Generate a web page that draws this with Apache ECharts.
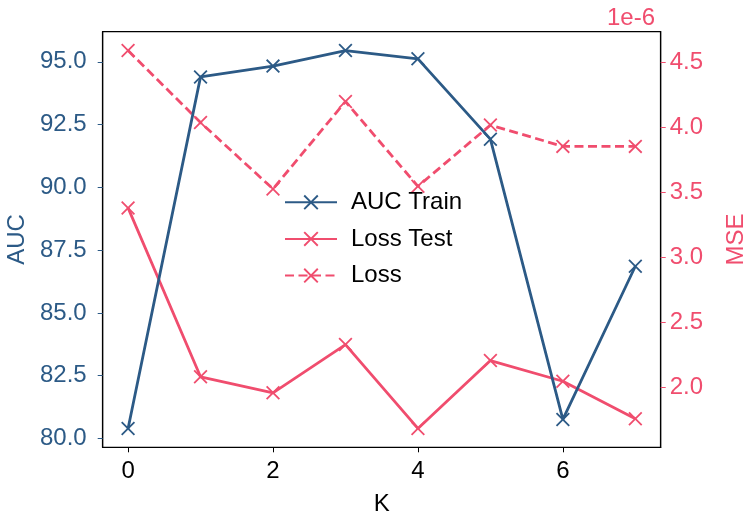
<!DOCTYPE html>
<html><head><meta charset="utf-8">
<script src="https://cdn.jsdelivr.net/npm/echarts@6/dist/echarts.min.js"></script>
<style>html,body{margin:0;padding:0;background:#fff}#c{width:747px;height:519px}</style>
</head><body><div id="c"></div>
<script>
const kValues = [0, 1, 2, 3, 4, 5, 6, 7];
const aucTrain = [80.40, 94.40, 94.83, 95.45, 95.12, 91.92, 80.76, 86.86];
const lossTest = [3.379e-6, 2.080e-6, 1.957e-6, 2.328e-6, 1.683e-6, 2.205e-6, 2.046e-6, 1.757e-6];
const loss = [4.589e-6, 4.036e-6, 3.525e-6, 4.197e-6, 3.545e-6, 4.016e-6, 3.852e-6, 3.852e-6];
const xTicks = [0, 2, 4, 6];
const aucTicks = [80, 82.5, 85, 87.5, 90, 92.5, 95];
const mseTicks = [2.0e-6, 2.5e-6, 3.0e-6, 3.5e-6, 4.0e-6, 4.5e-6];

const BLUE = '#2c5a86';
const PINK = '#f04d6e';
const FONT = 'Liberation Sans';
const X = 'path://M0.45,0L0.55,0L0.55,0.45L1,0.45L1,0.55L0.55,0.55L0.55,1L0.45,1L0.45,0.55L0,0.55L0,0.45L0.45,0.45Z';

const pairs = ys => kValues.map((k, i) => [k, ys[i]]);

const chart = echarts.init(document.getElementById('c'), null, {renderer: 'canvas'});
chart.setOption({
  animation: false,
  textStyle: {fontFamily: FONT},
  grid: {left: 102.7, right: 86.3, top: 31.7, bottom: 71.7, show: true, borderColor: '#000', borderWidth: 1.2,
    containLabel: false, outerBoundsMode: 'none'},
  graphic: [{type: 'text', right: 92, top: 6, style: {text: '1e-6', fill: PINK, font: '24px "Liberation Sans"'}}],
  legend: {
    orient: 'vertical', left: 284, top: 188.7, padding: 0, itemWidth: 52, itemHeight: 24, itemGap: 9.5,
    textStyle: {color: '#000', fontSize: 24, lineHeight: 24, padding: [0, 0, 0, 9], fontFamily: FONT},
    data: ['AUC Train', 'Loss Test', 'Loss']
  },
  xAxis: {
    type: 'value', min: -0.35, max: 7.35,
    name: 'K', nameLocation: 'middle', nameGap: 45,
    nameTextStyle: {color: '#000', fontSize: 24, fontFamily: FONT},
    axisLine: {show: true, onZero: false, lineStyle: {color: '#000', width: 1.2}},
    axisTick: {show: true, length: 5, lineStyle: {color: '#000'}, customValues: xTicks},
    axisLabel: {color: '#000', fontSize: 24, margin: 12, customValues: xTicks, fontFamily: FONT},
    splitLine: {show: false}
  },
  yAxis: [{
    type: 'value', min: 79.65, max: 96.2, position: 'left',
    name: 'AUC', nameLocation: 'middle', nameGap: 72, nameRotate: 90,
    nameTextStyle: {color: BLUE, fontSize: 24, fontFamily: FONT},
    axisLine: {show: true, onZero: false, lineStyle: {color: '#000', width: 1.2}},
    axisTick: {show: true, length: 5, lineStyle: {color: BLUE}, customValues: aucTicks},
    axisLabel: {color: BLUE, fontSize: 24, margin: 16, customValues: aucTicks, fontFamily: FONT,
      formatter: v => Number(v).toFixed(1)},
    splitLine: {show: false}
  }, {
    type: 'value', min: 1.538e-6, max: 4.734e-6, position: 'right',
    name: 'MSE', nameLocation: 'middle', nameGap: 64, nameRotate: 90,
    nameTextStyle: {color: PINK, fontSize: 24, fontFamily: FONT},
    axisLine: {show: true, onZero: false, lineStyle: {color: '#000', width: 1.2}},
    axisTick: {show: true, length: 5, lineStyle: {color: PINK}, customValues: mseTicks},
    axisLabel: {color: PINK, fontSize: 24, margin: 9, customValues: mseTicks, fontFamily: FONT,
      formatter: v => (Number(v) * 1e6).toFixed(1)},
    splitLine: {show: false}
  }],
  series: [{
    name: 'AUC Train', type: 'line', yAxisIndex: 0, data: pairs(aucTrain),
    symbol: X, symbolSize: 18, symbolRotate: 45, showAllSymbol: true,
    lineStyle: {color: BLUE, width: 2.8}, itemStyle: {color: BLUE}, z: 3
  }, {
    name: 'Loss Test', type: 'line', yAxisIndex: 1, data: pairs(lossTest),
    symbol: X, symbolSize: 18, symbolRotate: 45, showAllSymbol: true,
    lineStyle: {color: PINK, width: 2.8}, itemStyle: {color: PINK}, z: 2
  }, {
    name: 'Loss', type: 'line', yAxisIndex: 1, data: pairs(loss),
    symbol: X, symbolSize: 18, symbolRotate: 45, showAllSymbol: true,
    lineStyle: {color: PINK, width: 2.8, type: [9, 4.5]}, itemStyle: {color: PINK}, z: 2
  }]
});
</script></body></html>
